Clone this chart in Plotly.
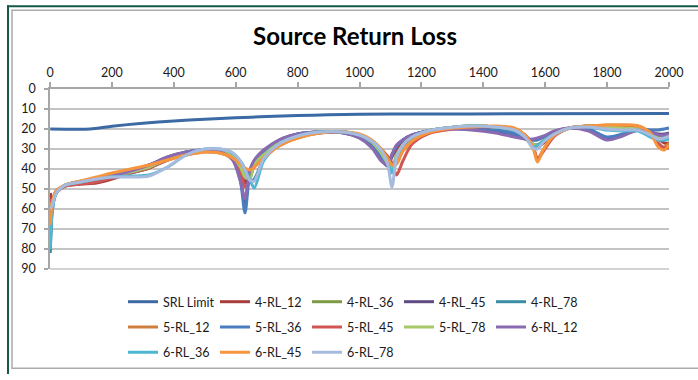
import plotly.graph_objects as go

# Frequency grid (MHz) shared by the measured return-loss traces
freq = [1, 8, 20, 50, 100, 150, 200, 260, 320, 380, 440, 500, 550, 590, 615, 630,
        645, 660, 690, 740, 800, 870, 950, 1000, 1040, 1070, 1090, 1105, 1120, 1140,
        1170, 1220, 1280, 1360, 1440, 1500, 1535, 1560, 1575, 1595, 1630, 1680, 1740,
        1800, 1850, 1900, 1940, 1965, 1985, 2000]

# SRL limit curve
srl_freq = [1, 130, 200, 300, 400, 500, 600, 700, 800, 900, 1000, 1200, 1500, 2000]
srl_limit = [20, 20, 18.6, 17.1, 16.0, 15.1, 14.4, 13.8, 13.3, 12.9, 12.6, 12.5, 12.4, 12.3]

rl_4_12 = [52, 56, 51, 48.5, 47.5, 47, 45, 42, 39.5, 35, 32, 30.5, 31, 34.5, 40, 47, 41, 36, 32, 26.5,
           23, 21.5, 21.5, 23.5, 28, 34, 38, 34, 30, 27, 24, 21, 19.5, 18.5, 19, 21, 24.5, 28, 29, 27,
           23, 19.5, 18.5, 18.5, 18.5, 19, 22, 25, 27, 27]
rl_4_36 = [60, 57, 52, 48, 46.5, 45.5, 44, 41.5, 39, 35, 32, 30.5, 31, 34, 38.5, 42, 45, 38, 33, 27,
           23.5, 21.5, 21.5, 23, 26.5, 32, 38, 40, 33, 28, 24, 21, 19.5, 18.5, 19, 20.5, 23.5, 27.5, 28, 26,
           22.5, 19.5, 18.5, 18.5, 19, 19.5, 21.5, 23, 24, 24]
rl_4_45 = [75, 58, 52, 48, 46.5, 45, 43.5, 41, 38, 34, 31.5, 30.5, 31.5, 35, 45, 57, 42, 36, 31, 25.5,
           22.5, 21.5, 22, 24.5, 29, 35, 38.5, 33, 28.5, 25.5, 23, 21, 20, 20, 21.5, 23.5, 25, 25.5, 25, 24,
           21.5, 19.5, 20.5, 24.5, 23, 20.5, 21.5, 22.5, 22.5, 22]
rl_4_78 = [82, 60, 52, 48, 46.5, 45.5, 44, 42, 39.5, 35.5, 32, 30.5, 30.5, 33, 37, 41, 46, 45, 35, 27.5,
           23.5, 21.5, 21.5, 23, 26.5, 31.5, 37.5, 40.5, 34, 28.5, 24.5, 21.5, 20, 19, 19.5, 21, 24, 27.5, 28, 26,
           22.5, 19.5, 19, 20, 20.5, 20.5, 23.5, 25, 24, 23]
rl_5_12 = [66, 56, 51, 48, 46, 44.5, 42.5, 40.5, 38.5, 35.5, 33, 31.5, 32, 34.5, 38, 40.5, 42, 39, 34.5, 28.5,
           24.5, 22, 21.5, 23, 26, 30.5, 35, 38.5, 37, 31, 26, 22, 20, 19, 19, 20, 23, 28.5, 35, 30,
           23, 19.5, 18.5, 18, 18, 18.5, 22, 28, 29, 27]
rl_5_36 = [70, 58, 52, 48, 46.5, 45, 43.5, 41, 38.5, 34.5, 31.5, 30.5, 31.5, 35, 46, 62, 43, 36.5, 31.5, 26,
           22.5, 21.5, 22, 24, 28.5, 34, 37.5, 33, 28.5, 25.5, 23, 21, 20, 19.5, 20.5, 22.5, 24.5, 25.5, 25.5, 24,
           21.5, 19.5, 20, 24, 22.5, 20, 20.5, 20.5, 20, 19.5]
rl_5_45 = [55, 57, 52, 48.5, 47.5, 46.5, 44.5, 42, 39.5, 35.5, 32.5, 31, 31.5, 35, 41, 49, 45, 38, 33.5, 27.5,
           23.5, 22, 21.5, 23, 26, 30, 33.5, 37, 43, 36, 27.5, 22.5, 20.5, 19, 19, 20, 23, 28, 35, 31,
           23.5, 19.5, 18.5, 18.5, 18.5, 19, 22.5, 27, 29.5, 29.5]
rl_5_78 = [62, 57, 52, 48, 46.5, 45, 43.5, 41.5, 39, 35, 32, 30.5, 31, 34, 39, 44, 45, 37.5, 33, 27,
           23.5, 21.5, 21.5, 23, 26.5, 32, 37, 39.5, 33, 28, 24, 21, 19.5, 18.5, 19, 20.5, 23.5, 27.5, 28.5, 26,
           22.5, 19.5, 18.5, 19, 19.5, 20, 22.5, 24.5, 25, 25]
rl_6_12 = [78, 59, 52, 48, 46.5, 45, 43.5, 41, 38, 34, 31.5, 30.5, 31.5, 35.5, 46, 55, 41, 35.5, 30.5, 25.5,
           22.5, 21.5, 22, 24.5, 29.5, 36, 38, 32.5, 28, 25.5, 23, 21, 20, 20.5, 22, 24, 25, 25, 24.5, 23.5,
           21, 19.5, 21, 25.5, 23.5, 20.5, 21.5, 23, 23, 22.5]
rl_6_36 = [80, 60, 52, 48, 46.5, 45, 44, 43.5, 43, 39, 33, 30, 30, 32, 36, 40, 45, 49.5, 36, 27.5,
           23.5, 21.5, 21.5, 23, 26, 30.5, 36, 42, 34, 28, 24, 21, 19.5, 18.5, 19, 20.5, 24, 28.5, 28.5, 26,
           22.5, 19.5, 19, 20.5, 21, 21, 24, 25.5, 25.5, 25]
rl_6_45 = [68, 56, 51, 48, 46, 44, 42, 40, 38, 35.5, 33, 31.5, 32, 34.5, 37.5, 39.5, 40.5, 39, 34.5, 28.5,
           24.5, 22, 21.5, 22.5, 25.5, 30, 34.5, 38, 37.5, 31, 26, 22, 20, 19, 18.5, 19.5, 23, 29, 36.5, 30,
           23, 19.5, 18.5, 18, 18, 18.5, 22, 29, 30.5, 28]
rl_6_78 = [60, 58, 52, 48, 46.5, 45, 44, 44, 43.5, 39, 33, 30, 30, 32, 36, 40.5, 45.5, 46, 35, 27.5,
           23.5, 21.5, 21.5, 23, 26, 30.5, 37, 49, 34, 28, 24, 21, 19.5, 18.5, 19, 20.5, 24, 29.5, 30, 26.5,
           22.5, 19.5, 19, 20, 20.5, 20.5, 23, 25, 24.5, 23.5]

series_names = ["4-RL_12", "4-RL_36", "4-RL_45", "4-RL_78",
                "5-RL_12", "5-RL_36", "5-RL_45", "5-RL_78",
                "6-RL_12", "6-RL_36", "6-RL_45", "6-RL_78"]
series_values = [rl_4_12, rl_4_36, rl_4_45, rl_4_78,
                 rl_5_12, rl_5_36, rl_5_45, rl_5_78,
                 rl_6_12, rl_6_36, rl_6_45, rl_6_78]
series_colors = ["#A83E3B", "#7D9A45", "#5F4A82", "#3B8EA5",
                 "#D0803E", "#4A7DC0", "#CF5652", "#A7C96A",
                 "#8A6BB2", "#4DB6D2", "#F7953F", "#A6BBDD"]

W, H = 698, 380
L, R, T, B = 50, 29, 89, 106
PW, PH = W - L - R, H - T - B

def px(x):
    return (x - L) / PW

def py(y):
    return (H - B - y) / PH

FONT = "Lato"
legend_rows = ["legend", "legend2", "legend3"]

fig = go.Figure()
fig.add_trace(go.Scatter(x=srl_freq, y=srl_limit, name="SRL Limit", mode="lines",
                         line=dict(color="#3C6AA4", width=3, shape="spline", smoothing=0.6),
                         legend="legend"))
for i, (name, vals, col) in enumerate(zip(series_names, series_values, series_colors)):
    row = (i + 1) // 5
    fig.add_trace(go.Scatter(x=freq, y=vals, name=name, mode="lines",
                             line=dict(color=col, width=3, shape="spline", smoothing=0.8),
                             legend=legend_rows[row]))

legend_common = dict(orientation="h", xanchor="left", yanchor="middle",
                     entrywidth=47, entrywidthmode="pixels", itemwidth=30,
                     font=dict(family=FONT, size=12.5, color="#1a1a1a"),
                     bgcolor="rgba(0,0,0,0)", tracegroupgap=0, itemclick=False)
row_y = [308, 334, 360]

GREEN = "#145948"
GREY = "#ABABAB"


def seg(x0, y0, x1, y1, color, width, layer="above"):
    return dict(type="line", xref="paper", yref="paper",
                x0=px(x0), x1=px(x1), y0=py(y0), y1=py(y1),
                line=dict(color=color, width=width), layer=layer)


# Excel-style chart frame plus the bottom gridline at 90
frame = [
    seg(7, 4, 700, 4, GREEN, 2),
    seg(8, 3, 8, 382, GREEN, 2),
    seg(11.5, 8, 700, 8, GREY, 1.5),
    seg(12, 7.5, 12, 376.5, GREY, 1.5),
    seg(11.5, 376, 700, 376, GREY, 1.5),
    seg(50, 274, 669, 274, "#C4C4C4", 1.5, "below"),
]

fig.update_layout(
    width=W, height=H,
    margin=dict(l=L, r=R, t=T, b=B),
    paper_bgcolor="white", plot_bgcolor="white",
    font=dict(family=FONT, color="#1a1a1a"),
    title=dict(text="<b>Source Return Loss</b>", x=355 / W, xanchor="center",
               y=1 - 37 / H, yanchor="middle",
               font=dict(family=FONT, size=24, color="#000000")),
    showlegend=True,
    legend=dict(x=px(123), y=py(row_y[0]), **legend_common),
    legend2=dict(x=px(123), y=py(row_y[1]), **legend_common),
    legend3=dict(x=px(123), y=py(row_y[2]), **legend_common),
    shapes=frame,
    xaxis=dict(side="top", range=[0, 2000], dtick=200, tick0=0,
               showgrid=False, zeroline=False,
               showline=True, linecolor="#A6A6A6", linewidth=1.5,
               ticks="outside", ticklen=5, tickcolor="#A6A6A6", tickwidth=1.5,
               tickfont=dict(family=FONT, size=12.5, color="#1a1a1a")),
    yaxis=dict(range=[90, 0], dtick=10, tick0=0,
               showgrid=True, gridcolor="#C4C4C4", gridwidth=1.5, zeroline=False,
               showline=True, linecolor="#A6A6A6", linewidth=1.5,
               ticks="outside", ticklen=4, tickcolor="#A6A6A6", tickwidth=1.5,
               ticklabelstandoff=6,
               tickfont=dict(family=FONT, size=12.5, color="#1a1a1a")),
)

fig.write_html("out.html")
